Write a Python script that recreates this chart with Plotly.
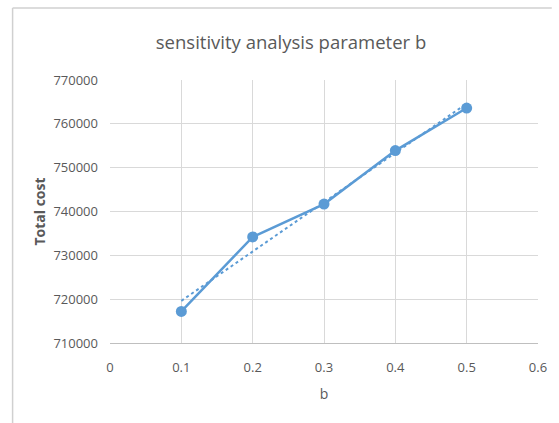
import plotly.graph_objects as go
import numpy as np

b_values = [0.1, 0.2, 0.3, 0.4, 0.5]
total_cost = [717200, 734200, 741700, 753900, 763600]
x_ticks = [0, 0.1, 0.2, 0.3, 0.4, 0.5, 0.6]
y_ticks = [710000, 720000, 730000, 740000, 750000, 760000, 770000]

# linear trendline computed from the data
slope, intercept = np.polyfit(b_values, total_cost, 1)
trend = [slope * x + intercept for x in b_values]

blue = "#5B9BD5"
gray_text = "#595959"
grid = "#D9D9D9"
font_family = "Open Sans, Liberation Sans, sans-serif"

W, H = 559, 423
L, R, T, B = 110, 14, 80, 80
pw, ph = W - L - R, H - T - B

def px_x(p):
    return (p - L) / pw

def px_y(p):
    return (H - B - p) / ph

fig = go.Figure()
fig.add_trace(go.Scatter(x=b_values, y=trend, mode="lines",
                         line=dict(color=blue, width=2, dash="dot"),
                         showlegend=False, hoverinfo="skip"))
fig.add_trace(go.Scatter(x=b_values, y=total_cost, mode="lines+markers",
                         line=dict(color=blue, width=2.5),
                         marker=dict(color=blue, size=11),
                         showlegend=False))

fig.update_layout(
    width=W, height=H,
    margin=dict(l=L, r=R, t=T, b=B),
    paper_bgcolor="white", plot_bgcolor="white",
    font=dict(family=font_family, color=gray_text, size=13),
    title=dict(text="sensitivity analysis parameter b", x=291 / W, xanchor="center",
               y=1 - 43 / H, yanchor="middle",
               font=dict(family=font_family, size=18.5, color=gray_text)),
    xaxis=dict(range=[0, 0.6], tickvals=x_ticks, ticktext=[str(t) for t in x_ticks],
               showgrid=True, gridcolor=grid, gridwidth=1, zeroline=False,
               showline=True, linecolor="#BFBFBF", linewidth=1, ticks="",
               ticklabelstandoff=12,
               tickfont=dict(size=13, color=gray_text),
               title=dict(text="b", font=dict(size=14, color=gray_text), standoff=14)),
    yaxis=dict(range=[710000, 770000], tickvals=y_ticks, ticktext=[str(t) for t in y_ticks],
               showgrid=True, gridcolor=grid, gridwidth=1, zeroline=False,
               showline=False, ticks="", ticklabelstandoff=11,
               tickfont=dict(size=13, color=gray_text),
               title=dict(text="<b>Total cost</b>", font=dict(size=14, color=gray_text), standoff=4)),
    shapes=[
        dict(type="line", xref="paper", yref="paper",
             x0=px_x(11), x1=px_x(11), y0=px_y(H), y1=px_y(8),
             line=dict(color="#D0D0D0", width=1.5)),
        dict(type="line", xref="paper", yref="paper",
             x0=px_x(11), x1=px_x(W), y0=px_y(8), y1=px_y(8),
             line=dict(color="#D0D0D0", width=1.5)),
    ],
)

fig.write_html("out.html")
